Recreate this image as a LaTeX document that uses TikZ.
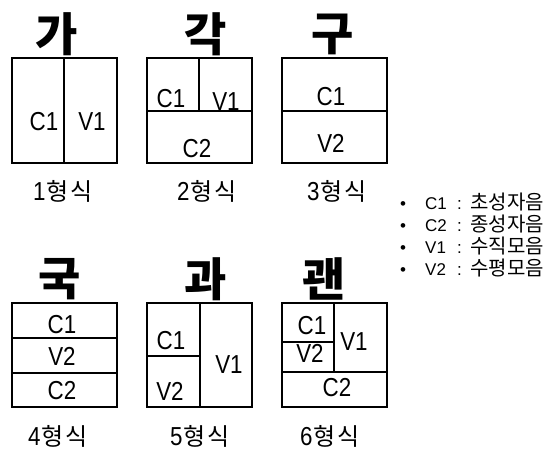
\documentclass[tikz,border=0pt]{standalone}
\usepackage{fontspec}
\setmainfont{Liberation Sans}
\newfontfamily\narrowsans[FakeStretch=0.86]{Liberation Sans}
\newfontfamily\kr{Noto Sans CJK KR}
\newcommand{\formtext}[1]{{\narrowsans\fontsize{26}{26}\selectfont #1}\hspace{1pt}{\kr\fontsize{24}{24}\selectfont 형\hspace{2pt}식}}
\newcommand{\legline}[2]{\makebox[25pt][l]{•}\makebox[32pt][l]{#1}\makebox[13pt][l]{:}{\kr\fontsize{20}{20}\selectfont #2}}
\tikzset{
  box/.style={line width=1.3pt},
  cell/.style={font=\narrowsans\fontsize{26}{26}\selectfont, inner sep=0pt, anchor=center},
  big/.style={font=\kr\bfseries\fontsize{46}{46}\selectfont, inner sep=0pt, anchor=center},
  formlabel/.style={inner sep=0pt, anchor=base},
  leg/.style={font=\fontsize{17}{17}\selectfont, inner sep=0pt, anchor=west}
}
\begin{document}
\begin{tikzpicture}[x=1pt,y=-1pt]
\useasboundingbox (0,0) rectangle (559,451);
% ---------- row 1 ----------
% box 1
\draw[box] (12,58) rectangle (117,163);
\draw[box] (64,58) -- (64,163);
\node[big] (h1) at (57,34) {가};
\node[cell] (b1c1) at (44,122) {C1};
\node[cell] (b1v1) at (92,122) {V1};
\node[formlabel] (l1) at (63,200) {\formtext{1}};
% box 2
\draw[box] (147,58) rectangle (252,163);
\draw[box] (147,111) -- (252,111);
\draw[box] (199,58) -- (199,111);
\node[big] (h2) at (206,34) {각};
\node[cell] (b2c1) at (171,99) {C1};
\node[cell] (b2v1) at (226,102) {V1};
\node[cell] (b2c2) at (197,149) {C2};
\node[formlabel] (l2) at (207,200) {\formtext{2}};
% box 3
\draw[box] (282,58) rectangle (387,163);
\draw[box] (282,111) -- (387,111);
\node[big] (h3) at (333,34) {구};
\node[cell] (b3c1) at (331,97) {C1};
\node[cell] (b3v2) at (331,143) {V2};
\node[formlabel] (l3) at (337,200) {\formtext{3}};
% ---------- legend ----------
\node[leg] (g1) at (400,202) {\legline{C1}{초성자음}};
\node[leg] (g2) at (400,224) {\legline{C2}{종성자음}};
\node[leg] (g3) at (400,246) {\legline{V1}{수직모음}};
\node[leg] (g4) at (400,268) {\legline{V2}{수평모음}};
% ---------- row 2 ----------
% box 4
\draw[box] (12,303) rectangle (117,407);
\draw[box] (12,338) -- (117,338);
\draw[box] (12,373) -- (117,373);
\node[big] (h4) at (60,279) {국};
\node[cell] (b4c1) at (62,325) {C1};
\node[cell] (b4v2) at (62,356) {V2};
\node[cell] (b4c2) at (62,391) {C2};
\node[formlabel] (l4) at (58,445) {\formtext{4}};
% box 5
\draw[box] (147,303) rectangle (252,407);
\draw[box] (200,303) -- (200,407);
\draw[box] (147,356) -- (200,356);
\node[big] (h5) at (206,279) {과};
\node[cell] (b5c1) at (171,341) {C1};
\node[cell] (b5v2) at (170,391) {V2};
\node[cell] (b5v1) at (229,365) {V1};
\node[formlabel] (l5) at (200,445) {\formtext{5}};
% box 6
\draw[box] (282,303) rectangle (387,407);
\draw[box] (334,303) -- (334,372);
\draw[box] (282,342) -- (334,342);
\draw[box] (282,372) -- (387,372);
\node[big] (h6) at (324,279) {괜};
\node[cell] (b6c1) at (312,326) {C1};
\node[cell] (b6v2) at (310,353) {V2};
\node[cell] (b6v1) at (354,342) {V1};
\node[cell] (b6c2) at (337,388) {C2};
\node[formlabel] (l6) at (330,445) {\formtext{6}};
\end{tikzpicture}
\end{document}
